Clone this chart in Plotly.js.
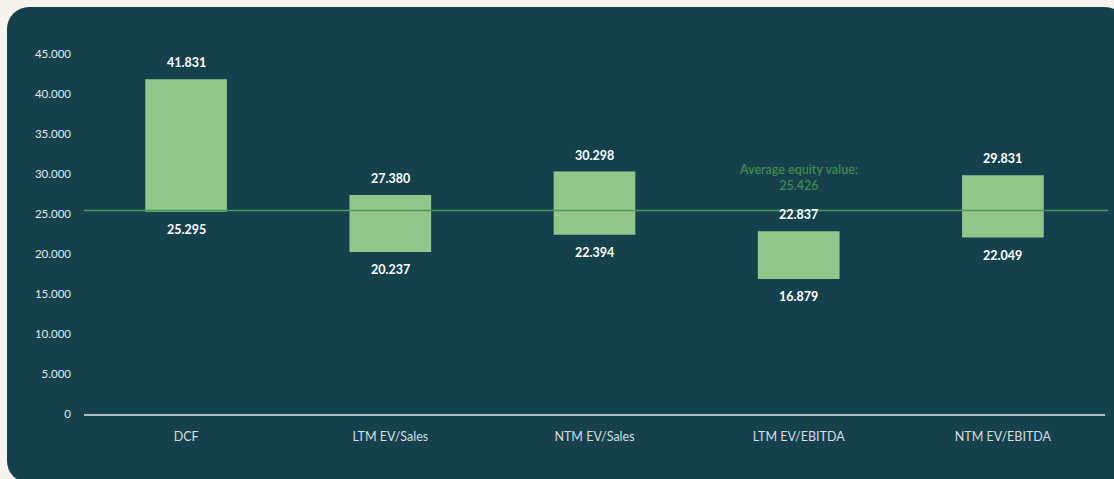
<!DOCTYPE html>
<html><head><meta charset="utf-8">
<script src="https://cdn.plot.ly/plotly-3.0.1.min.js"></script>
<style>
html,body{margin:0;padding:0;background:#f6f4ec;overflow:hidden;width:1114px;height:479px;}
#panel{position:absolute;left:7px;top:7px;width:1120px;height:476px;background:#14414c;border-radius:22px;}
#chart{position:absolute;left:0;top:0;width:1114px;height:479px;}
</style></head>
<body>
<div id="panel"></div>
<div id="chart"></div>
<script>
const categories = ["DCF", "LTM EV/Sales", "NTM EV/Sales", "LTM EV/EBITDA", "NTM EV/EBITDA"];
const lowValues  = [25295, 20237, 22394, 16879, 22049];
const highValues = [41831, 27380, 30298, 22837, 29831];
const averageValue = 25426;
const yTicks = [0,5000,10000,15000,20000,25000,30000,35000,40000,45000];

const fmt = v => v.toLocaleString('de-DE');

const bars = {
  type: 'bar', x: categories,
  y: highValues.map((h,i)=>h-lowValues[i]),
  base: lowValues, width: 0.4,
  marker: {color: '#93c68b'}, hoverinfo: 'skip'
};

const annotations = [];
categories.forEach((c,i)=>{
  annotations.push({x:c, y:highValues[i], xref:'x', yref:'y', text:fmt(highValues[i]), showarrow:false,
    yanchor:'bottom', yshift:7, font:{family:'Lato, sans-serif', size:12.5, color:'#ffffff', weight:'bold'}});
  annotations.push({x:c, y:lowValues[i], xref:'x', yref:'y', text:fmt(lowValues[i]), showarrow:false,
    yanchor:'top', yshift:-8, font:{family:'Lato, sans-serif', size:12.5, color:'#ffffff', weight:'bold'}});
});
annotations.push({x:3, y:averageValue, xref:'x', yref:'y', text:'Average equity value:<br>' + fmt(averageValue),
  showarrow:false, yanchor:'bottom', yshift:16, align:'center',
  font:{family:'Lato, sans-serif', size:12.5, color:'#3f8a4c', weight:600}});

const layout = {
  width:1114, height:479,
  margin:{l:84, r:9, t:30, b:65},
  paper_bgcolor:'rgba(0,0,0,0)', plot_bgcolor:'rgba(0,0,0,0)',
  separators: ',.',
  showlegend:false,
  xaxis:{showgrid:false, showline:true, linecolor:'#a7bec3', linewidth:1.5, zeroline:false,
    tickfont:{family:'Lato, sans-serif', size:12.5, color:'#d5dfe1'}, ticks:'', ticklen:0, ticklabelstandoff:10},
  yaxis:{range:[0,48000], showgrid:false, zeroline:false, showline:false,
    tickvals:yTicks, ticktext:yTicks.map(fmt), ticks:'', ticklabelstandoff:12,
    tickfont:{family:'Lato, sans-serif', size:11.5, color:'#e3e9ea'}},
  shapes:[{type:'line', xref:'paper', yref:'y', x0:0, x1:1.003, y0:averageValue, y1:averageValue,
    line:{color:'#4a9a57', width:1.5}, layer:'above'}],
  annotations: annotations
};

Plotly.newPlot('chart', [bars], layout, {displayModeBar:false, staticPlot:true});
</script>
</body></html>
